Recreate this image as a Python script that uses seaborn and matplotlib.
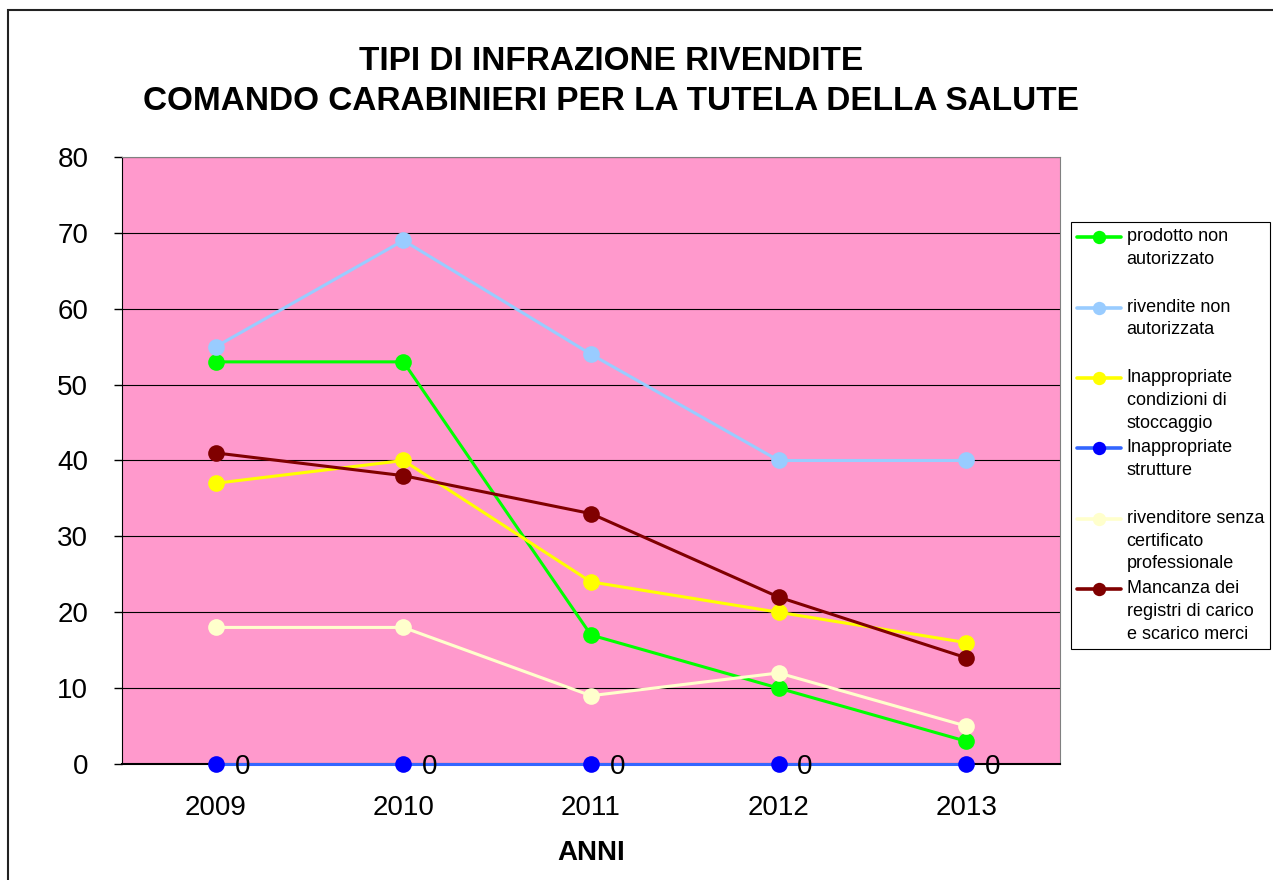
import numpy as np
import matplotlib
matplotlib.use("Agg")
import matplotlib.pyplot as plt
from matplotlib.lines import Line2D
from matplotlib.patches import Rectangle
from matplotlib.legend_handler import HandlerLine2D
import seaborn as sns


years = [2009, 2010, 2011, 2012, 2013]

prodotto = [53, 53, 17, 10, 3]
rivendite = [55, 69, 54, 40, 40]
stoccaggio = [37, 40, 24, 20, 16]
strutture = [0, 0, 0, 0, 0]
certificato = [18, 18, 9, 12, 5]
registri = [41, 38, 33, 22, 14]

labels = [
    "prodotto non\nautorizzato\n",
    "rivendite non\nautorizzata\n",
    "Inappropriate\ncondizioni di\nstoccaggio",
    "Inappropriate\nstrutture\n",
    "rivenditore senza\ncertificato\nprofessionale",
    "Mancanza dei\nregistri di carico\ne scarico merci",
]
line_colors = ["#00FF00", "#99CCFF", "#FFFF00", "#3366FF", "#FFFFCC", "#800000"]
marker_colors = ["#00FF00", "#99CCFF", "#FFFF00", "#0000FF", "#FFFFCC", "#800000"]

title_1 = "TIPI DI INFRAZIONE RIVENDITE"
title_2 = "COMANDO CARABINIERI PER LA TUTELA DELLA SALUTE"


class FirstLineHandler(HandlerLine2D):
    """put the legend handle next to the first line of a multi-line label"""
    def __init__(self, shift, **kw):
        super().__init__(**kw)
        self.shift = shift

    def create_artists(self, legend, orig_handle, xdescent, ydescent,
                       width, height, fontsize, trans):
        arts = super().create_artists(legend, orig_handle, xdescent, ydescent,
                                      width, height, fontsize, trans)
        for a in arts:
            a.set_ydata(np.asarray(a.get_ydata(), dtype=float) + self.shift)
        return arts


sns.set_style("white")
plt.rcParams['font.family'] = ['Liberation Sans', 'DejaVu Sans']
plt.rcParams['text.color'] = 'black'
plt.rcParams['axes.labelcolor'] = 'black'
plt.rcParams['xtick.color'] = 'black'
plt.rcParams['ytick.color'] = 'black'

W, H = 1273, 880
fig = plt.figure(figsize=(W / 100, H / 100), dpi=100)
ax = fig.add_axes([122 / W, 1 - 764 / H, 938 / W, 607 / H])
ax.set_facecolor("#FF99CC")

series = [prodotto, rivendite, stoccaggio, strutture, certificato, registri]
for vals, lab, lc, mc in zip(series, labels, line_colors, marker_colors):
    sns.lineplot(x=years, y=vals, ax=ax, color=lc, marker="o", markersize=12,
                 markerfacecolor=mc, markeredgewidth=0, linewidth=2.2,
                 label=lab, clip_on=False, zorder=3)

# data labels of the zero series
for yr, v in zip(years, strutture):
    ax.annotate(f"{v:g}", (yr, v), xytext=(13.5, -2.5), textcoords="offset points",
                ha="left", va="center", fontsize=20, annotation_clip=False)

ax.set_xlim(years[0] - 0.5, years[-1] + 0.5)
ax.set_ylim(0, 80)
ax.set_yticks(range(0, 81, 10))
ax.set_xticks(years)
ax.set_xticklabels([str(y) for y in years])
ax.set_xticks(np.arange(years[0] - 0.5, years[-1] + 1, 1.0), minor=True)
ax.tick_params(axis="x", which="major", length=0, pad=22, labelsize=20)
ax.tick_params(axis="x", which="minor", length=5.8, width=1, direction="out", color="black")
ax.tick_params(axis="y", length=5.8, width=1, direction="out", pad=18.5,
               labelsize=20, color="black", left=True)

ax.yaxis.grid(True, color="black", linewidth=0.8)
ax.xaxis.grid(False)
ax.set_axisbelow(True)

for side in ["top", "right"]:
    ax.spines[side].set_color("#808080")
    ax.spines[side].set_linewidth(0.8)
ax.spines["left"].set_color("black")
ax.spines["left"].set_linewidth(0.8)
ax.spines["bottom"].set_color("black")
ax.spines["bottom"].set_linewidth(1.5)

ax.set_ylabel("")
ax.set_xlabel("ANNI", fontsize=20, fontweight="bold")
ax.xaxis.set_label_coords(0.5, -0.126)

fig.text(611 / W, 1 - 46 / H, title_1, ha="center", va="top", fontsize=24, fontweight="bold")
fig.text(611 / W, 1 - 86 / H, title_2, ha="center", va="top", fontsize=24, fontweight="bold")

# legend
leg_fs = 13
line_sp = 1.44
shift = 22.5 * 0.72
handles, _ = ax.get_legend_handles_labels()
leg = ax.legend(handles, labels, loc="upper left",
                bbox_to_anchor=(1071 / W, 1 - 222 / H), bbox_transform=fig.transFigure,
                borderaxespad=0, fontsize=leg_fs, frameon=True, fancybox=False,
                framealpha=1, edgecolor="black", handlelength=2.4, handletextpad=0.33,
                borderpad=0.35, labelspacing=0.44, markerscale=0.8,
                handler_map={Line2D: FirstLineHandler(shift)})
leg.get_frame().set_linewidth(0.8)
for t in leg.get_texts():
    t.set_linespacing(line_sp)
for h in leg.legend_handles:
    h.set_linewidth(2.6)

# outer chart border
fig.add_artist(Rectangle((7.5 / W, -0.1), 1.2, 1.1 - 10 / H, transform=fig.transFigure,
                         fill=False, edgecolor="#222222", linewidth=1.5))

fig.savefig("out.png", dpi=100)
